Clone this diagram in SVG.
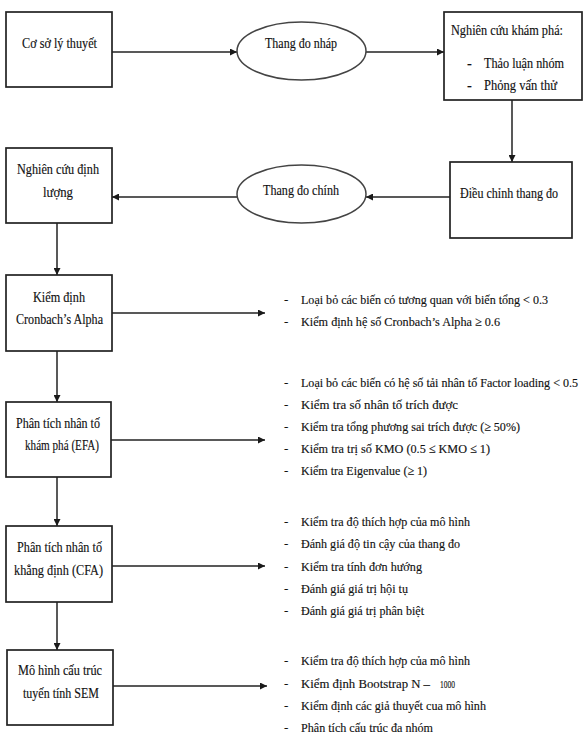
<svg xmlns="http://www.w3.org/2000/svg" width="585" height="743" viewBox="0 0 585 743">
<defs>
<marker id="ah" viewBox="0 0 10 10" refX="10" refY="5" markerWidth="7" markerHeight="7" markerUnits="userSpaceOnUse" orient="auto">
<path d="M0,0 L10,5 L0,10 z" fill="#1a1a1a"/>
</marker>
<style>
.box{fill:#fff;stroke:#222;stroke-width:1.7}
.ell{fill:#fff;stroke:#444;stroke-width:1.5}
.arr{fill:none;stroke:#222;stroke-width:1.5;marker-end:url(#ah)}
text{font-family:"Liberation Serif","Times New Roman",serif;font-size:14.5px;fill:#111;stroke:#111;stroke-width:0.15}
.d{font-size:13px}
.d2{font-size:12px}
.sm{font-size:11px}
</style>
</defs>
<rect width="585" height="743" fill="#fff"/>

<g id="connectors">
<line class="arr" x1="112" y1="52" x2="237" y2="52"/>
<line class="arr" x1="366" y1="52" x2="444" y2="52"/>
<line class="arr" x1="512" y1="100" x2="512" y2="162"/>
<line class="arr" x1="450" y1="197" x2="366" y2="197"/>
<line class="arr" x1="237" y1="197" x2="112" y2="197"/>
<line class="arr" x1="57" y1="223" x2="57" y2="275"/>
<line class="arr" x1="57" y1="351" x2="57" y2="402"/>
<line class="arr" x1="57" y1="477" x2="57" y2="526"/>
<line class="arr" x1="57" y1="602" x2="57" y2="650"/>
<line class="arr" x1="112" y1="313" x2="265" y2="313"/>
<line class="arr" x1="111" y1="440" x2="265" y2="440"/>
<line class="arr" x1="112" y1="566" x2="265" y2="566"/>
<line class="arr" x1="113" y1="686" x2="267" y2="686"/>
</g>

<g id="co-so-ly-thuyet">
<rect class="box" x="6" y="12" width="106" height="75"/>
<text x="22" y="48" textLength="75" lengthAdjust="spacingAndGlyphs">Cơ sở lý thuyết</text>
</g>

<g id="thang-do-nhap">
<ellipse class="ell" cx="301.5" cy="51" rx="64.5" ry="29"/>
<text x="265" y="48" textLength="72" lengthAdjust="spacingAndGlyphs">Thang đo nháp</text>
</g>

<g id="nghien-cuu-kham-pha">
<rect class="box" x="444" y="12" width="138" height="88"/>
<text x="451" y="35" textLength="112" lengthAdjust="spacingAndGlyphs">Nghiên cứu khám phá:</text>
<text x="467" y="68">-</text>
<text x="484" y="68" textLength="80" lengthAdjust="spacingAndGlyphs">Thảo luận nhóm</text>
<text x="467" y="90">-</text>
<text x="484" y="90" textLength="73" lengthAdjust="spacingAndGlyphs">Phỏng vấn thử</text>
</g>

<g id="dieu-chinh-thang-do">
<rect class="box" x="450" y="162" width="122" height="76"/>
<text x="460" y="198" textLength="98" lengthAdjust="spacingAndGlyphs">Điều chỉnh thang đo</text>
</g>

<g id="thang-do-chinh">
<ellipse class="ell" cx="301.5" cy="194" rx="64.5" ry="29"/>
<text x="263" y="195" textLength="76" lengthAdjust="spacingAndGlyphs">Thang đo chính</text>
</g>

<g id="nghien-cuu-dinh-luong">
<rect class="box" x="6" y="148" width="106" height="75"/>
<text x="17" y="174" textLength="82" lengthAdjust="spacingAndGlyphs">Nghiên cứu định</text>
<text x="43" y="197" textLength="30" lengthAdjust="spacingAndGlyphs">lượng</text>
</g>

<g id="cronbach">
<rect class="box" x="6" y="275" width="106" height="76"/>
<text x="33" y="302" textLength="52" lengthAdjust="spacingAndGlyphs">Kiểm định</text>
<text x="16" y="324" textLength="87" lengthAdjust="spacingAndGlyphs">Cronbach’s Alpha</text>
</g>

<g id="cronbach-notes">
<text class="d" x="284" y="303.5">-</text>
<text class="d" x="301" y="303.5" textLength="247" lengthAdjust="spacingAndGlyphs">Loại bỏ các biến có tương quan với biến tổng &lt; 0.3</text>
<text class="d" x="284" y="325.5">-</text>
<text class="d" x="301" y="325.5" textLength="199" lengthAdjust="spacingAndGlyphs">Kiểm định hệ số Cronbach’s Alpha ≥ 0.6</text>
</g>

<g id="efa">
<rect class="box" x="6" y="402" width="105" height="75"/>
<text x="16" y="428" textLength="84" lengthAdjust="spacingAndGlyphs">Phân tích nhân tố</text>
<text x="25" y="450" textLength="74" lengthAdjust="spacingAndGlyphs">khám phá (EFA)</text>
</g>

<g id="efa-notes">
<text class="d" x="284" y="386.5">-</text>
<text class="d2" x="301" y="386.5" textLength="277" lengthAdjust="spacingAndGlyphs">Loại bỏ các biến có hệ số tải nhân tố Factor loading &lt; 0.5</text>
<text class="d" x="284" y="408.5">-</text>
<text class="d" x="301" y="408.5" textLength="157" lengthAdjust="spacingAndGlyphs">Kiểm tra số nhân tố trích được</text>
<text class="d" x="284" y="431">-</text>
<text class="d" x="301" y="431" textLength="219" lengthAdjust="spacingAndGlyphs">Kiểm tra tổng phương sai trích được (≥ 50%)</text>
<text class="d" x="284" y="453">-</text>
<text class="d" x="301" y="453" textLength="189" lengthAdjust="spacingAndGlyphs">Kiểm tra trị số KMO (0.5 ≤ KMO ≤ 1)</text>
<text class="d" x="284" y="475">-</text>
<text class="d" x="301" y="475" textLength="126" lengthAdjust="spacingAndGlyphs">Kiểm tra Eigenvalue (≥ 1)</text>
</g>

<g id="cfa">
<rect class="box" x="6" y="526" width="106" height="76"/>
<text x="17" y="552" textLength="85" lengthAdjust="spacingAndGlyphs">Phân tích nhân tố</text>
<text x="14" y="575" textLength="89" lengthAdjust="spacingAndGlyphs">khẳng định (CFA)</text>
</g>

<g id="cfa-notes">
<text class="d" x="284" y="525.5">-</text>
<text class="d" x="301" y="525.5" textLength="169" lengthAdjust="spacingAndGlyphs">Kiểm tra độ thích hợp của mô hình</text>
<text class="d" x="284" y="547.5">-</text>
<text class="d" x="301" y="547.5" textLength="159" lengthAdjust="spacingAndGlyphs">Đánh giá độ tin cậy của thang đo</text>
<text class="d" x="284" y="570.5">-</text>
<text class="d" x="301" y="570.5" textLength="121" lengthAdjust="spacingAndGlyphs">Kiểm tra tính đơn hướng</text>
<text class="d" x="284" y="592.5">-</text>
<text class="d" x="301" y="592.5" textLength="107" lengthAdjust="spacingAndGlyphs">Đánh giá giá trị hội tụ</text>
<text class="d" x="284" y="614.5">-</text>
<text class="d" x="301" y="614.5" textLength="123" lengthAdjust="spacingAndGlyphs">Đánh giá giá trị phân biệt</text>
</g>

<g id="sem">
<rect class="box" x="7" y="650" width="106" height="75"/>
<text x="18" y="675" textLength="84" lengthAdjust="spacingAndGlyphs">Mô hình cấu trúc</text>
<text x="23" y="698" textLength="76" lengthAdjust="spacingAndGlyphs">tuyến tính SEM</text>
</g>

<g id="sem-notes">
<text class="d" x="284" y="664.5">-</text>
<text class="d" x="301" y="664.5" textLength="169" lengthAdjust="spacingAndGlyphs">Kiểm tra độ thích hợp của mô hình</text>
<text class="d" x="284" y="687.5">-</text>
<text class="d" x="301" y="687.5" textLength="129" lengthAdjust="spacingAndGlyphs">Kiểm định Bootstrap N –</text>
<text class="sm" x="440" y="687.5" textLength="15" lengthAdjust="spacingAndGlyphs">1000</text>
<text class="d" x="284" y="709.5">-</text>
<text class="d" x="301" y="709.5" textLength="185" lengthAdjust="spacingAndGlyphs">Kiểm định các giả thuyết cua mô hình</text>
<text class="d" x="284" y="731.5">-</text>
<text class="d" x="301" y="731.5" textLength="132" lengthAdjust="spacingAndGlyphs">Phân tích cấu trúc đa nhóm</text>
</g>
</svg>
